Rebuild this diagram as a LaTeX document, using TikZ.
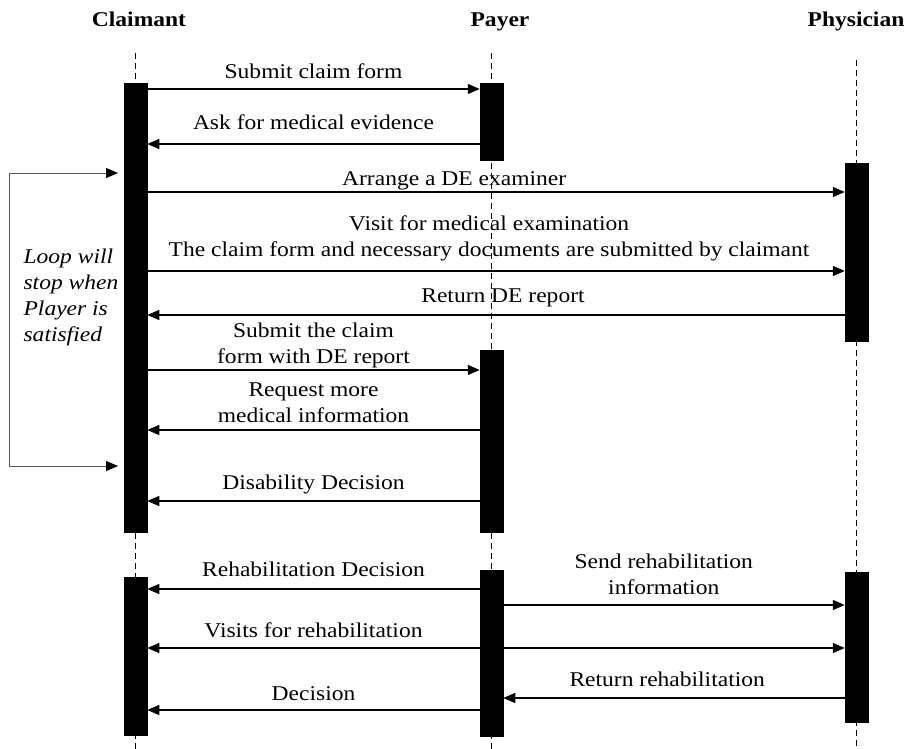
\documentclass[tikz,border=0pt]{standalone}
\usepackage{fontspec}
\setmainfont{Liberation Serif}[FakeStretch=1.12]
\usetikzlibrary{arrows.meta}

\begin{document}
\begin{tikzpicture}[x=1pt, y=-1pt, line width=1.2pt,
	arrows={-Triangle[length=12pt,width=10pt]},
	bar/.style={fill=black, draw=black, line width=0.5pt, minimum width=23pt, inner sep=0pt, anchor=north},
	life/.style={-, line width=1pt, dash pattern=on 6pt off 4pt},
	lbl/.style={font=\fontsize{21}{26}\selectfont, align=center, inner sep=0pt, text depth=0pt},
	actor/.style={font=\fontsize{21}{26}\selectfont\bfseries, inner sep=0pt, anchor=base}]
	\useasboundingbox (0,0) rectangle (913,749);

	% actors and lifelines
	\node [actor] (cl) at (139,27) {Claimant};
	\node [actor] (py) at (500,27) {Payer};
	\node [actor] (ph) at (856,27) {Physician};
	\draw [life] (135.5,53) -- (135.5,749);
	\draw [life] (491.5,53) -- (491.5,749);
	\draw [life] (856.5,60) -- (856.5,749);

	% activation bars
	\node [bar, minimum height=449pt] (cb1) at (135.5,83) {};
	\node [bar, minimum height=77pt] (pb1) at (491.5,83) {};
	\node [bar, minimum height=178pt] (hb1) at (856.5,163) {};
	\node [bar, minimum height=182pt] (pb2) at (491.5,350) {};
	\node [bar, minimum height=158pt] (cb2) at (135.5,577) {};
	\node [bar, minimum height=166pt] (pb3) at (491.5,570) {};
	\node [bar, minimum height=150pt] (hb2) at (856.5,572) {};

	% loop
	\coordinate (lt) at (118,173);
	\coordinate (lb) at (118,466);
	\draw [draw=gray!70!black, line width=0.8pt, {Triangle[length=12pt,width=10pt,color=black]}-{Triangle[length=12pt,width=10pt,color=black]}] (lt) -- ++(-109,0) |- (lb);
	\node [lbl, font=\fontsize{21}{26}\selectfont\itshape, align=left, anchor=north west] (lp) at (23,248) {Loop will\\stop when\\Player is\\satisfied};

	% messages
	\draw (cb1.east |- 0,89) to node [lbl, above=10pt] {Submit claim form} (pb1.west |- 0,89);
	\draw (pb1.west |- 0,144) to node [lbl, above=14pt] {Ask for medical evidence} (cb1.east |- 0,144);
	\draw (cb1.east |- 0,192) to node [lbl, above=6pt, pos=0.44] {Arrange a DE examiner} (hb1.west |- 0,192);
	\draw (cb1.east |- 0,271) to node [lbl, above=14pt, pos=0.49] {Visit for medical examination\\The claim form and necessary documents are submitted by claimant} (hb1.west |- 0,271);
	\draw (hb1.west |- 0,315) to node [lbl, above=12pt, pos=0.49] {Return DE report} (cb1.east |- 0,315);
	\draw (cb1.east |- 0,370) to node [lbl, above=6pt] {Submit the claim\\form with DE report} (pb2.west |- 0,370);
	\draw (pb2.west |- 0,430) to node [lbl, above=7pt] {Request more\\medical information} (cb1.east |- 0,430);
	\draw (pb2.west |- 0,501) to node [lbl, above=11pt] {Disability Decision} (cb1.east |- 0,501);
	\draw (pb3.west |- 0,589) to node [lbl, above=12pt] {Rehabilitation Decision} (cb2.east |- 0,589);
	\draw (pb3.east |- 0,605) to node [lbl, above=10pt, pos=0.47] {Send rehabilitation\\information} (hb2.west |- 0,605);
	\draw (pb3.west |- 0,648) to node [lbl, above=10pt] {Visits for rehabilitation} (cb2.east |- 0,648);
	\draw (pb3.east |- 0,648) to (hb2.west |- 0,648);
	\draw (hb2.west |- 0,698) to node [lbl, above=11pt, pos=0.52] {Return rehabilitation} (pb3.east |- 0,698);
	\draw (pb3.west |- 0,710) to node [lbl, above=9pt] {Decision} (cb2.east |- 0,710);
\end{tikzpicture}
\end{document}
